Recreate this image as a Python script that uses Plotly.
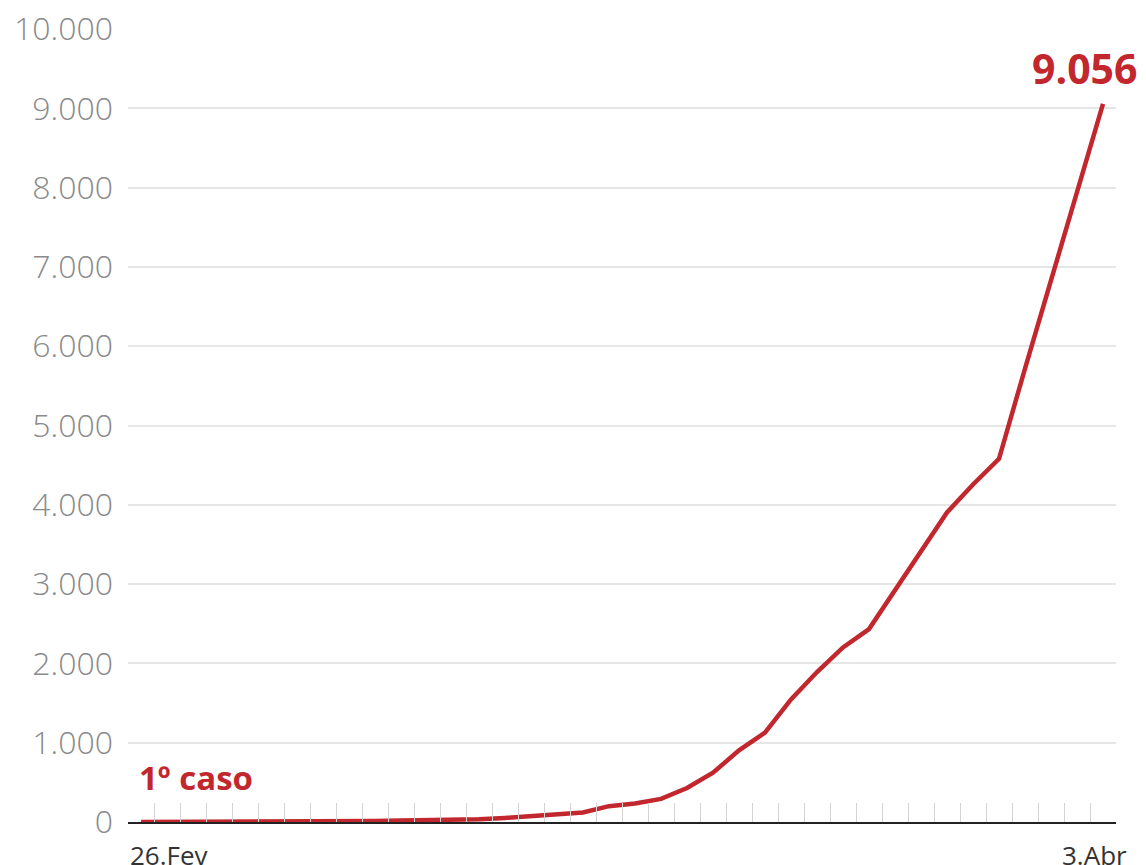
import plotly.graph_objects as go
import pandas as pd

dates = pd.date_range("2020-02-26", "2020-04-03", freq="D")
cases = [1, 1, 1, 2, 2, 2, 2, 3, 8, 13, 19, 25, 25, 34, 52, 77, 98, 121, 200, 234,
         291, 428, 621, 904, 1128, 1546, 1891, 2201, 2433, 2915, 3417, 3904, 4256,
         4579, 5717, 6836, 7910, 9056]
y_ticks = [0, 1000, 2000, 3000, 4000, 5000, 6000, 7000, 8000, 9000, 10000]
start_label = "26.Fev"
end_label = "3.Abr"
first_case_label = "1º caso"
last_value_label = "9.056"

RED = "#c1272d"

fig = go.Figure()
fig.add_trace(go.Scatter(
    x=dates, y=cases, mode="lines",
    line=dict(color=RED, width=4.5),
    hoverinfo="skip", showlegend=False,
))

half_day = pd.Timedelta(hours=12)
# page body has an 8px default margin; figure placed at (8, 8)
fig.update_layout(
    width=1138, height=857,
    margin=dict(l=120, r=30, t=21, b=43),
    paper_bgcolor="white", plot_bgcolor="white",
    separators=",.",
    font=dict(family="Open Sans", color="#333"),
    xaxis=dict(
        type="date",
        range=[dates[0] - half_day, dates[-1] + half_day],
        tick0=dates[0] - half_day, dtick=86400000,
        ticks="inside", ticklen=19, tickwidth=1, tickcolor="#d4d4d4",
        showticklabels=False, showgrid=False, zeroline=False,
        showline=True, linecolor="#222", linewidth=1.5,
        automargin=False,
    ),
    yaxis=dict(
        range=[0, 10000],
        tickvals=y_ticks, tickformat=",d",
        showgrid=True, gridcolor="#e6e6e6", gridwidth=1.5,
        zeroline=False, showline=False,
        ticks="", ticklabelstandoff=14,
        ticklabeloverflow="allow", automargin=False,
        tickfont=dict(family="Open Sans", size=32, color="#8a8a8a", weight=300),
    ),
    annotations=[
        dict(x=dates[-1], y=cases[-1], xref="x", yref="y", text=last_value_label,
             showarrow=False, xanchor="right", yanchor="bottom", xshift=36, yshift=6,
             font=dict(family="Open Sans", size=41, color=RED, weight=700)),
        dict(x=dates[0], y=cases[0], xref="x", yref="y", text=first_case_label,
             showarrow=False, xanchor="left", yanchor="bottom", xshift=-4, yshift=20,
             font=dict(family="Open Sans", size=33, color=RED, weight=700)),
        dict(x=0, y=0, xref="paper", yref="paper", text=start_label,
             showarrow=False, xanchor="left", yanchor="top", yshift=-13,
             font=dict(family="Open Sans", size=26, color="#333")),
        dict(x=1, y=0, xref="paper", yref="paper", text=end_label,
             showarrow=False, xanchor="right", yanchor="top", xshift=13, yshift=-13,
             font=dict(family="Open Sans", size=26, color="#333")),
    ],
)

fig.write_html("out.html")
